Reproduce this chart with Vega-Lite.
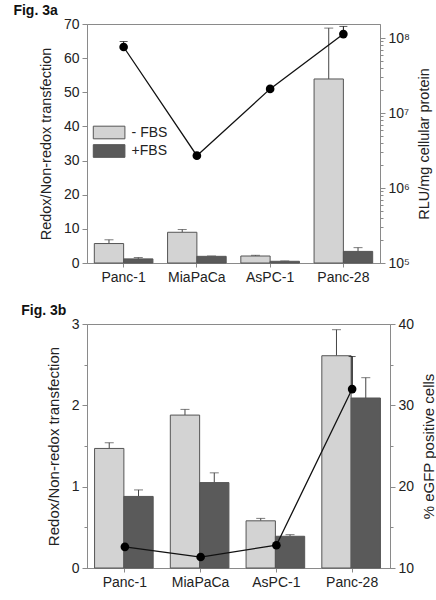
{
  "$schema": "https://vega.github.io/schema/vega-lite/v6.json",
  "padding": {"left": 12, "top": 3, "right": 5, "bottom": 0},
  "background": "white",
  "config": {
    "font": "Liberation Sans",
    "view": {"stroke": "#8a8a8a", "strokeWidth": 1},
    "axis": {
      "labelFont": "Liberation Sans", "labelFontSize": 14, "labelColor": "#222",
      "titleFont": "Liberation Sans", "titleFontSize": 14.5, "titleFontWeight": "normal", "titleColor": "#222",
      "domainColor": "#8a8a8a", "tickColor": "#8a8a8a", "grid": false, "tickSize": 5, "labelPadding": 3
    },
    "title": {"font": "Liberation Sans", "fontSize": 14, "fontWeight": "bold", "anchor": "start", "color": "#111", "frame": "bounds", "offset": -1},
    "legend": {"title": null, "labelFont": "Liberation Sans", "labelFontSize": 14, "labelColor": "#222", "symbolType": "M-2,-0.8H2V0.8H-2Z", "symbolSize": 250, "symbolStrokeColor": "#555", "symbolStrokeWidth": 1, "labelOffset": 14, "rowPadding": 1.5}
  },
  "datasets": {
    "a_bars": [
      {"cell": "Panc-1", "serum": "- FBS", "value": 5.7, "hi": 6.8},
      {"cell": "Panc-1", "serum": "+FBS", "value": 1.2, "hi": 1.6},
      {"cell": "MiaPaCa", "serum": "- FBS", "value": 9.0, "hi": 9.8},
      {"cell": "MiaPaCa", "serum": "+FBS", "value": 1.95, "hi": 2.05},
      {"cell": "AsPC-1", "serum": "- FBS", "value": 2.05, "hi": 2.25},
      {"cell": "AsPC-1", "serum": "+FBS", "value": 0.5, "hi": 0.6},
      {"cell": "Panc-28", "serum": "- FBS", "value": 53.9, "hi": 68.8},
      {"cell": "Panc-28", "serum": "+FBS", "value": 3.4, "hi": 4.5}
    ],
    "a_line": [
      {"cell": "Panc-1", "rlu": 76000000, "hi": 90000000},
      {"cell": "MiaPaCa", "rlu": 2700000, "hi": 2700000},
      {"cell": "AsPC-1", "rlu": 21000000, "hi": 21000000},
      {"cell": "Panc-28", "rlu": 113000000, "hi": 143000000}
    ],
    "b_bars": [
      {"cell": "Panc-1", "serum": "- FBS", "value": 1.47, "hi": 1.54},
      {"cell": "Panc-1", "serum": "+FBS", "value": 0.88, "hi": 0.96},
      {"cell": "MiaPaCa", "serum": "- FBS", "value": 1.88, "hi": 1.95},
      {"cell": "MiaPaCa", "serum": "+FBS", "value": 1.05, "hi": 1.17},
      {"cell": "AsPC-1", "serum": "- FBS", "value": 0.58, "hi": 0.61},
      {"cell": "AsPC-1", "serum": "+FBS", "value": 0.39, "hi": 0.41},
      {"cell": "Panc-28", "serum": "- FBS", "value": 2.61, "hi": 2.93},
      {"cell": "Panc-28", "serum": "+FBS", "value": 2.09, "hi": 2.34}
    ],
    "b_line": [
      {"cell": "Panc-1", "pct": 12.6, "hi": 12.6},
      {"cell": "MiaPaCa", "pct": 11.35, "hi": 11.35},
      {"cell": "AsPC-1", "pct": 12.8, "hi": 12.8},
      {"cell": "Panc-28", "pct": 32.0, "hi": 36.0}
    ]
  },
  "concat": [
    {
      "title": {"text": "Fig. 3a", "dx": -25},
      "width": 293, "height": 239,
      "layer": [
        {
          "data": {"name": "a_bars"},
          "encoding": {
            "x": {"field": "cell", "type": "nominal", "sort": ["Panc-1", "MiaPaCa", "AsPC-1", "Panc-28"], "scale": {"paddingInner": 0.2, "paddingOuter": 0.1}, "axis": {"title": null, "labelAngle": 0, "tickSize": 4, "labelPadding": 3}},
            "xOffset": {"field": "serum", "type": "nominal", "sort": ["- FBS", "+FBS"]},
            "y": {"field": "value", "type": "quantitative", "scale": {"domain": [0, 70], "nice": false}, "axis": {"title": "Redox/Non-redox transfection", "values": [0, 10, 20, 30, 40, 50, 60, 70], "titlePadding": 10}}
          },
          "layer": [
            {"mark": {"type": "rule", "color": "#444", "strokeWidth": 1}, "encoding": {"y2": {"field": "hi"}}},
            {"mark": {"type": "tick", "color": "#444", "size": 9, "thickness": 1}, "encoding": {"y": {"field": "hi", "type": "quantitative"}}},
            {"mark": {"type": "bar", "stroke": "#555", "strokeWidth": 1},
             "encoding": {"color": {"field": "serum", "type": "nominal", "scale": {"domain": ["- FBS", "+FBS"], "range": ["#d3d3d3", "#5a5a5a"]},
               "legend": {"orient": "none", "legendX": 13.6, "legendY": 100}}}}
          ]
        },
        {
          "data": {"name": "a_line"},
          "encoding": {
            "x": {"field": "cell", "type": "nominal", "sort": ["Panc-1", "MiaPaCa", "AsPC-1", "Panc-28"], "axis": {"title": null, "labelAngle": 0, "tickSize": 4, "labelPadding": 3}},
            "y": {"field": "rlu", "type": "quantitative", "scale": {"type": "log", "domain": [100000, 154000000], "nice": false},
              "axis": {"orient": "right", "title": "RLU/mg cellular protein", "titleAngle": 270, "titleBaseline": "top", "titlePadding": 8,
                "values": [100000, 200000, 300000, 400000, 500000, 600000, 700000, 800000, 900000, 1000000, 2000000, 3000000, 4000000, 5000000, 6000000, 7000000, 8000000, 9000000, 10000000, 20000000, 30000000, 40000000, 50000000, 60000000, 70000000, 80000000, 90000000, 100000000],
                "labelExpr": "datum.value == 100000 ? '10⁵' : datum.value == 1000000 ? '10⁶' : datum.value == 10000000 ? '10⁷' : datum.value == 100000000 ? '10⁸' : ''",
                "tickSize": {"condition": {"test": "datum.value != 100000 && datum.value != 1000000 && datum.value != 10000000 && datum.value != 100000000", "value": 3}, "value": 5}}}
          },
          "layer": [
            {"mark": {"type": "rule", "color": "#111", "strokeWidth": 1}, "encoding": {"y2": {"field": "hi"}}},
            {"mark": {"type": "tick", "color": "#111", "size": 8, "thickness": 1}, "encoding": {"y": {"field": "hi", "type": "quantitative"}}},
            {"mark": {"type": "line", "color": "#111", "strokeWidth": 1.3}},
            {"mark": {"type": "point", "filled": true, "color": "#000", "size": 75, "opacity": 1}}
          ]
        }
      ],
      "resolve": {"scale": {"y": "independent"}}
    },
    {
      "title": {"text": "Fig. 3b", "dx": -25},
      "width": 303, "height": 244,
      "layer": [
        {
          "data": {"name": "b_bars"},
          "encoding": {
            "x": {"field": "cell", "type": "nominal", "sort": ["Panc-1", "MiaPaCa", "AsPC-1", "Panc-28"], "scale": {"paddingInner": 0.2, "paddingOuter": 0.1}, "axis": {"title": null, "labelAngle": 0, "tickSize": 4, "labelPadding": 3}},
            "xOffset": {"field": "serum", "type": "nominal", "sort": ["- FBS", "+FBS"]},
            "y": {"field": "value", "type": "quantitative", "scale": {"domain": [0, 3], "nice": false},
              "axis": {"title": "Redox/Non-redox transfection", "titleFontSize": 15, "values": [0, 0.5, 1, 1.5, 2, 2.5, 3], "titlePadding": 10,
                "labelExpr": "datum.value % 1 == 0 ? format(datum.value, 'd') : ''",
                "tickSize": {"condition": {"test": "datum.value % 1 != 0", "value": 3}, "value": 5}}}
          },
          "layer": [
            {"mark": {"type": "rule", "color": "#444", "strokeWidth": 1}, "encoding": {"y2": {"field": "hi"}}},
            {"mark": {"type": "tick", "color": "#444", "size": 9, "thickness": 1}, "encoding": {"y": {"field": "hi", "type": "quantitative"}}},
            {"mark": {"type": "bar", "stroke": "#555", "strokeWidth": 1},
             "encoding": {"color": {"field": "serum", "type": "nominal", "scale": {"domain": ["- FBS", "+FBS"], "range": ["#d3d3d3", "#5a5a5a"]},
               "legend": {"orient": "none", "legendX": 19, "legendY": 10}}}}
          ]
        },
        {
          "data": {"name": "b_line"},
          "encoding": {
            "x": {"field": "cell", "type": "nominal", "sort": ["Panc-1", "MiaPaCa", "AsPC-1", "Panc-28"], "axis": {"title": null, "labelAngle": 0, "tickSize": 4, "labelPadding": 3}},
            "y": {"field": "pct", "type": "quantitative", "scale": {"domain": [10, 40], "nice": false},
              "axis": {"orient": "right", "title": "% eGFP positive cells", "titleFontSize": 15, "titleAngle": 270, "titleBaseline": "top", "titlePadding": 8,
                "values": [10, 15, 20, 25, 30, 35, 40],
                "labelExpr": "datum.value % 10 == 0 ? format(datum.value, 'd') : ''",
                "tickSize": {"condition": {"test": "datum.value % 10 != 0", "value": 3}, "value": 5}}}
          },
          "layer": [
            {"mark": {"type": "rule", "color": "#111", "strokeWidth": 1.3}, "encoding": {"y2": {"field": "hi"}}},
            {"mark": {"type": "tick", "color": "#111", "size": 7, "thickness": 1}, "encoding": {"y": {"field": "hi", "type": "quantitative"}}},
            {"mark": {"type": "line", "color": "#111", "strokeWidth": 1.3}},
            {"mark": {"type": "point", "filled": true, "color": "#000", "size": 75, "opacity": 1}}
          ]
        }
      ],
      "resolve": {"scale": {"y": "independent"}}
    }
  ],
  "columns": 1,
  "align": "none",
  "spacing": 18
}
